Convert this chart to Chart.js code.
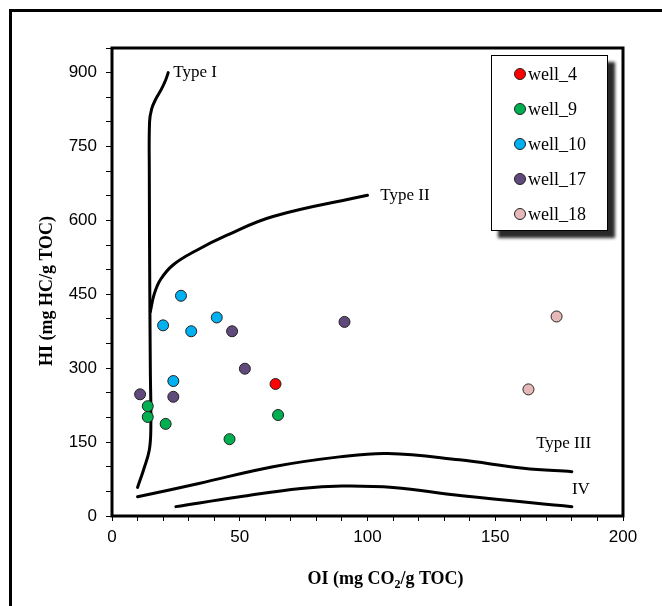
<!DOCTYPE html>
<html>
<head>
<meta charset="utf-8">
<script src="https://cdn.jsdelivr.net/npm/chart.js@4.4.0/dist/chart.umd.min.js"></script>
<style>
  html, body { margin: 0; padding: 0; background: #fff; }
  #wrap { position: relative; width: 662px; height: 606px; overflow: hidden; }
  #frame { position: absolute; left: 9px; top: 9px; width: 720px; height: 720px;
           border-left: 3px solid #000; border-top: 3px solid #000; }
  #chartBox { position: absolute; left: 0; top: 0; width: 662px; height: 606px; }
  #legend { position: absolute; left: 491px; top: 55px; width: 115px; height: 174px;
            border: 1px solid #000; background: #fff; box-shadow: 7px 7px 3px #2a2a2a;
            font-family: "Liberation Serif", serif; font-size: 18px; color: #000; }
  #legend .item { position: absolute; left: 22px; height: 20px; line-height: 20px; white-space: nowrap; }
  #legend .dot { display: inline-block; width: 10px; height: 10px; border-radius: 50%;
                 border: 1px solid #222; vertical-align: middle; margin-right: 2px; position: relative; top: -2px; }
</style>
</head>
<body>
<div id="wrap">
  <div id="frame"></div>
  <div id="chartBox"><canvas id="vk"></canvas></div>
  <div id="legend"></div>
</div>
<script>
// --- dados ---
const wells = ['well_4', 'well_9', 'well_10', 'well_17', 'well_18'];
const wellColors = ['#ff0000', '#00b050', '#00b0f0', '#604a7b', '#e6b9b8'];
const wellOI = [
  [64],
  [14, 14, 21, 65, 46],
  [27, 20, 31, 41, 24],
  [47, 91, 52, 11, 24],
  [174, 163]
];
const wellHI = [
  [268],
  [223, 201, 187, 205, 156],
  [447, 387, 375, 403, 274],
  [375, 394, 299, 247, 242],
  [405, 257]
];

// curvas de tipo de querogênio
const typeI_OI  = [10, 12.3, 14.6, 15.2, 15, 14.8, 14.6, 14.7, 15.5, 17, 19.4, 21, 22];
const typeI_HI  = [58, 93, 134, 180, 300, 450, 700, 800, 826, 845, 867, 885, 900];
const typeII_OI = [15, 16.5, 19, 24, 33, 45, 63, 100];
const typeII_HI = [415, 450, 480, 510, 539, 570, 608, 651];
const typeIII_OI = [10, 34, 63, 89, 108, 136, 161, 180];
const typeIII_HI = [39, 66, 100, 120, 127, 114, 97, 90];
const typeIV_OI = [25, 50, 74, 90, 110, 137, 180];
const typeIV_HI = [19, 39, 56, 61, 58, 41, 19];

const curveNames = ['Type I', 'Type II', 'Type III', 'IV'];
const curveLabelOI = [24, 105, 166, 180];
const curveLabelHI = [900, 651, 148, 53];

const xTicksLabeled = [0, 50, 100, 150, 200];
const yTicksLabeled = [0, 150, 300, 450, 600, 750, 900];

function toPoints(xs, ys) {
  return xs.map((x, i) => ({ x: x, y: ys[i] }));
}

const datasets = [];
wells.forEach((name, i) => {
  datasets.push({
    label: name,
    data: toPoints(wellOI[i], wellHI[i]),
    backgroundColor: wellColors[i],
    borderColor: '#222',
    borderWidth: 1,
    pointRadius: 5.5,
    order: 1
  });
});
[[typeI_OI, typeI_HI], [typeII_OI, typeII_HI], [typeIII_OI, typeIII_HI], [typeIV_OI, typeIV_HI]]
  .forEach((c, i) => {
    datasets.push({
      label: curveNames[i],
      data: toPoints(c[0], c[1]),
      showLine: true,
      borderColor: '#000',
      borderWidth: 3,
      pointRadius: 0,
      tension: 0.4,
      borderCapStyle: 'round',
      order: 2
    });
  });

// legenda em HTML
const legend = document.getElementById('legend');
wells.forEach((name, i) => {
  const div = document.createElement('div');
  div.className = 'item';
  div.style.top = (8 + i * 35) + 'px';
  div.innerHTML = '<span class="dot" style="background:' + wellColors[i] + '"></span>' + name;
  legend.appendChild(div);
});

// moldura do gráfico, rótulos das curvas e títulos dos eixos
const extras = {
  id: 'extras',
  afterDraw(chart) {
    const ctx = chart.ctx;
    const a = chart.chartArea;
    const xs = chart.scales.x, ys = chart.scales.y;
    ctx.save();
    ctx.strokeStyle = '#000';
    ctx.lineWidth = 3;
    ctx.strokeRect(a.left, a.top, a.right - a.left, a.bottom - a.top);

    ctx.fillStyle = '#000';
    ctx.font = '17px "Liberation Serif"';
    ctx.textAlign = 'left';
    ctx.textBaseline = 'middle';
    curveNames.forEach((t, i) => {
      ctx.fillText(t, xs.getPixelForValue(curveLabelOI[i]), ys.getPixelForValue(curveLabelHI[i]));
    });

    // título do eixo X com subscrito
    const big = 'bold 18px "Liberation Serif"';
    const small = 'bold 12px "Liberation Serif"';
    const p1 = 'OI (mg CO', p2 = '2', p3 = '/g TOC)';
    ctx.font = big; const w1 = ctx.measureText(p1).width, w3 = ctx.measureText(p3).width;
    ctx.font = small; const w2 = ctx.measureText(p2).width;
    let x0 = (a.left + a.right) / 2 + 18 - (w1 + w2 + w3) / 2;
    const ty = 578;
    ctx.textBaseline = 'alphabetic';
    ctx.font = big; ctx.fillText(p1, x0, ty + 6);
    ctx.font = small; ctx.fillText(p2, x0 + w1, ty + 10);
    ctx.font = big; ctx.fillText(p3, x0 + w1 + w2, ty + 6);

    // título do eixo Y
    ctx.translate(47, (a.top + a.bottom) / 2 + 9);
    ctx.rotate(-Math.PI / 2);
    ctx.textAlign = 'center';
    ctx.textBaseline = 'middle';
    ctx.font = big;
    ctx.fillText('HI (mg HC/g TOC)', 0, 0);
    ctx.restore();
  }
};

const tickFont = { family: 'Liberation Sans', size: 17 };

new Chart(document.getElementById('vk'), {
  type: 'scatter',
  data: { datasets: datasets },
  options: {
    responsive: true,
    maintainAspectRatio: false,
    animation: false,
    layout: { padding: { top: 48, right: 39, left: 0, bottom: 0 } },
    plugins: { legend: { display: false }, tooltip: { enabled: false } },
    scales: {
      x: {
        type: 'linear', min: 0, max: 200,
        afterFit: s => { s.height = 90; },
        border: { display: false },
        grid: { drawOnChartArea: false, drawTicks: true, tickLength: 5, tickColor: '#000', tickWidth: 1 },
        ticks: {
          stepSize: 10, autoSkip: false, maxRotation: 0, padding: 6,
          color: '#000', font: tickFont,
          callback: v => xTicksLabeled.includes(v) ? v : ''
        }
      },
      y: {
        type: 'linear', min: 0, max: 950,
        afterFit: s => { s.width = 112; },
        border: { display: false },
        grid: { drawOnChartArea: false, drawTicks: true, tickLength: 6, tickColor: '#000', tickWidth: 1 },
        ticks: {
          stepSize: 50, autoSkip: false, padding: 9,
          color: '#000', font: tickFont,
          callback: v => yTicksLabeled.includes(v) ? v : ''
        }
      }
    }
  },
  plugins: [extras]
});
</script>
</body>
</html>
